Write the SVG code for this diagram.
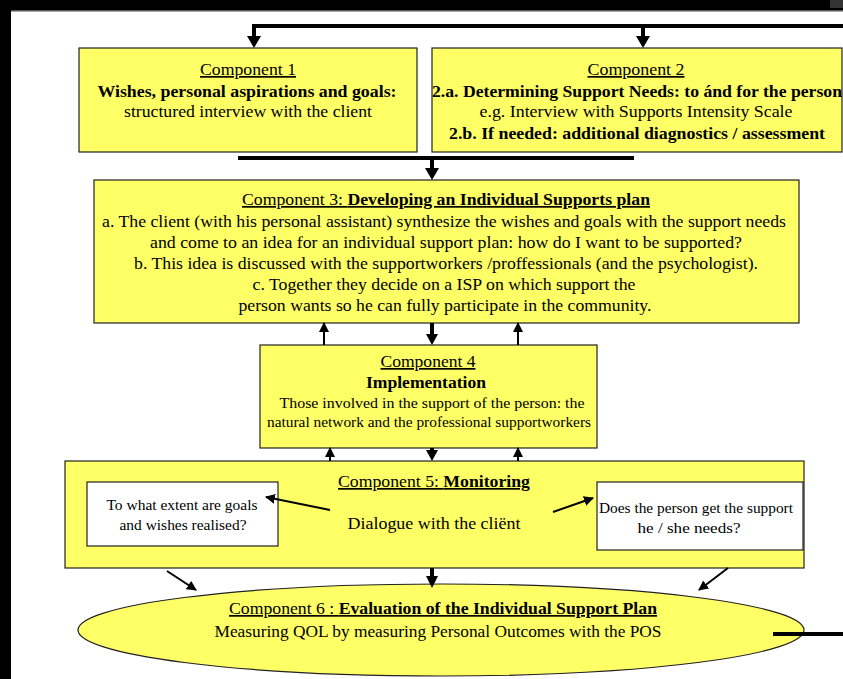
<svg xmlns="http://www.w3.org/2000/svg" width="843" height="679" viewBox="0 0 843 679">
<defs>
<style>
.box{fill:#ffff66;stroke:#222;stroke-width:1.2}
.wbox{fill:#fff;stroke:#222;stroke-width:1.2}
text{font-family:"Liberation Serif","Times New Roman",serif;fill:#000;text-anchor:middle}
.t15{font-size:17px}
.t16{font-size:17px}
.t13{font-size:14.5px}
.b{font-weight:bold}
.u{text-decoration:underline}
.thick{stroke:#000;stroke-width:4;fill:none}
.thin{stroke:#000;stroke-width:2;fill:none}
</style>
<marker id="as" viewBox="0 0 10 10" refX="9" refY="5" markerWidth="5" markerHeight="5" orient="auto" markerUnits="strokeWidth"><path d="M0,0 L10,5 L0,10 z" fill="#000"/></marker>
</defs>
<rect x="0" y="0" width="843" height="679" fill="#fff"/>
<rect x="0" y="0" width="843" height="10" fill="#000"/>
<rect x="0" y="0" width="11" height="679" fill="#000"/>
<rect x="11" y="10" width="832" height="1.5" fill="#555"/>
<rect x="830" y="0" width="13" height="8" fill="#333"/>

<g id="c1">
<rect class="box" x="79" y="48" width="338" height="104"/>
<text class="t15 u" x="248" y="75" textLength="96" lengthAdjust="spacingAndGlyphs" font-family="Liberation Serif, serif">Component 1</text>
<text class="t15 b" x="247" y="97" textLength="299" lengthAdjust="spacingAndGlyphs" font-family="Liberation Serif, serif">Wishes, personal aspirations and goals:</text>
<text class="t15" x="248" y="117" textLength="248" lengthAdjust="spacingAndGlyphs" font-family="Liberation Serif, serif">structured interview with the client</text>
</g>

<g id="c2">
<rect class="box" x="432" y="48" width="410" height="104"/>
<text class="t15 u" x="636" y="75" textLength="97" lengthAdjust="spacingAndGlyphs" font-family="Liberation Serif, serif">Component 2</text>
<text class="t15 b" x="637" y="97" textLength="410" lengthAdjust="spacingAndGlyphs" font-family="Liberation Serif, serif">2.a. Determining Support Needs: to ánd for the person</text>
<text class="t15" x="636" y="117" textLength="313" lengthAdjust="spacingAndGlyphs" font-family="Liberation Serif, serif">e.g. Interview with Supports Intensity Scale</text>
<text class="t15 b" x="637" y="139" textLength="376" lengthAdjust="spacingAndGlyphs" font-family="Liberation Serif, serif">2.b. If needed: additional diagnostics / assessment</text>
</g>

<g id="c3" font-family="Liberation Serif, serif">
<rect class="box" x="94" y="180" width="705" height="143"/>
<text class="t16 u" x="446" y="205" textLength="408" lengthAdjust="spacingAndGlyphs">Component 3: <tspan class="b">Developing an Individual Supports plan</tspan></text>
<text class="t16" x="444" y="227" textLength="684" lengthAdjust="spacingAndGlyphs">a. The client (with his personal assistant) synthesize the wishes and goals with the support needs</text>
<text class="t16" x="446" y="248" textLength="592" lengthAdjust="spacingAndGlyphs">and come to an idea for an individual support plan: how do I want to be supported?</text>
<text class="t16" x="446" y="269" textLength="624" lengthAdjust="spacingAndGlyphs">b. This idea is discussed with the supportworkers /proffessionals (and the psychologist).</text>
<text class="t16" x="444" y="290" textLength="383" lengthAdjust="spacingAndGlyphs">c. Together they decide on a ISP on which support the</text>
<text class="t16" x="445" y="311" textLength="413" lengthAdjust="spacingAndGlyphs">person wants so he can fully participate in the community.</text>
</g>

<g id="c4" font-family="Liberation Serif, serif">
<rect class="box" x="260" y="345" width="337" height="103"/>
<text class="t15 u" x="428" y="367" textLength="95" lengthAdjust="spacingAndGlyphs">Component 4</text>
<text class="t15 b" x="426" y="388" textLength="120" lengthAdjust="spacingAndGlyphs">Implementation</text>
<text class="t13" x="432" y="408" textLength="305" lengthAdjust="spacingAndGlyphs">Those involved in the support of the person: the</text>
<text class="t13" x="429" y="427" textLength="324" lengthAdjust="spacingAndGlyphs">natural network and the professional supportworkers</text>
</g>

<g id="c5" font-family="Liberation Serif, serif">
<rect class="box" x="65" y="461" width="739" height="107"/>
<text class="t15 u" x="434" y="487" textLength="192" lengthAdjust="spacingAndGlyphs">Component 5: <tspan class="b">Monitoring</tspan></text>
<text class="t16" x="434" y="529" textLength="173" lengthAdjust="spacingAndGlyphs">Dialogue with the cliënt</text>
</g>

<g id="c5a" font-family="Liberation Serif, serif">
<rect class="wbox" x="87" y="482" width="191" height="64"/>
<text class="t13" x="182" y="510" textLength="151" lengthAdjust="spacingAndGlyphs">To what extent are goals</text>
<text class="t13" x="183" y="530" textLength="127" lengthAdjust="spacingAndGlyphs">and wishes realised?</text>
</g>

<g id="c5b" font-family="Liberation Serif, serif">
<rect class="wbox" x="597" y="482" width="206" height="68"/>
<text class="t13" x="696" y="513" textLength="194" lengthAdjust="spacingAndGlyphs">Does the person get the support</text>
<text class="t13" x="689" y="533" textLength="103" lengthAdjust="spacingAndGlyphs">he / she needs?</text>
</g>

<g id="c6" font-family="Liberation Serif, serif">
<ellipse class="box" cx="441" cy="630" rx="363" ry="46"/>
<text class="t15 u" x="443" y="614" textLength="428" lengthAdjust="spacingAndGlyphs">Component 6 : <tspan class="b">Evaluation of the Individual Support Plan</tspan></text>
<text class="t15" x="438" y="637" textLength="447" lengthAdjust="spacingAndGlyphs">Measuring QOL by measuring Personal Outcomes with the POS</text>
</g>

<g id="connectors">
<polyline class="thick" points="843,26 254,26 254,38"/>
<path d="M247,36 L261,36 L254,48 z" fill="#000"/>
<line class="thick" x1="643" y1="26" x2="643" y2="38"/>
<path d="M636,36 L650,36 L643,48 z" fill="#000"/>
<line class="thick" x1="238" y1="158" x2="634" y2="158"/>
<line class="thick" x1="432" y1="158" x2="432" y2="170"/>
<path d="M425,168 L439,168 L432,180 z" fill="#000"/>
<line class="thin" x1="324" y1="345" x2="324" y2="323" marker-end="url(#as)"/>
<line class="thin" x1="518" y1="345" x2="518" y2="323" marker-end="url(#as)"/>
<line class="thick" x1="432" y1="323" x2="432" y2="336"/>
<path d="M426,334 L438,334 L432,345 z" fill="#000"/>
<line class="thin" x1="330" y1="461" x2="330" y2="448" marker-end="url(#as)"/>
<line class="thin" x1="518" y1="461" x2="518" y2="448" marker-end="url(#as)"/>
<line class="thick" x1="432" y1="448" x2="432" y2="452"/>
<path d="M426,450 L438,450 L432,461 z" fill="#000"/>
<line class="thin" x1="330" y1="510" x2="266" y2="497" marker-end="url(#as)"/>
<line class="thin" x1="553" y1="512" x2="593" y2="498" marker-end="url(#as)"/>
<line class="thin" x1="167" y1="571" x2="196" y2="590" marker-end="url(#as)"/>
<line class="thick" x1="432" y1="568" x2="432" y2="578"/>
<path d="M426,576 L438,576 L432,588 z" fill="#000"/>
<line class="thin" x1="728" y1="568" x2="699" y2="590" marker-end="url(#as)"/>
<line class="thick" x1="773" y1="634" x2="843" y2="634"/>
</g>
</svg>
